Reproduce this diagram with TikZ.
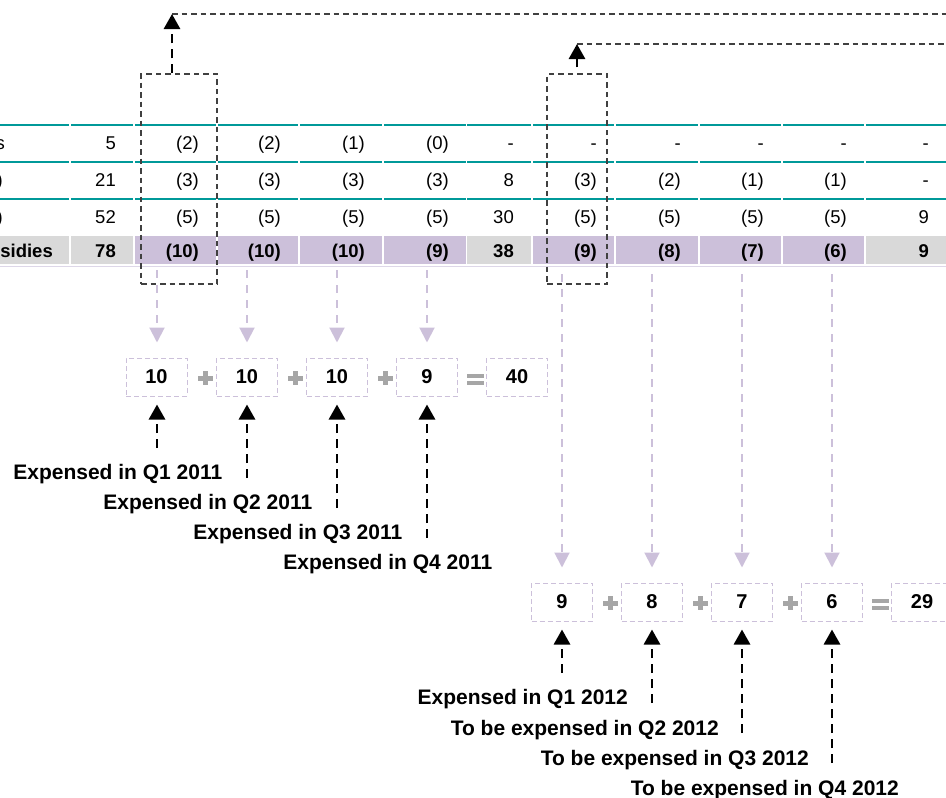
\documentclass[tikz,border=0pt]{standalone}
\usepackage{fontspec}
\setmainfont{Liberation Sans}
\usetikzlibrary{arrows.meta,calc}
\definecolor{tealline}{RGB}{0,153,153}
\definecolor{lav}{RGB}{204,192,218}
\definecolor{lavline}{RGB}{221,215,232}
\definecolor{cellgray}{RGB}{217,217,217}
\definecolor{dgray}{RGB}{64,64,64}
\definecolor{opgray}{RGB}{166,166,166}
\newcommand\opplus[2]{\fill[opgray] (#1-7.5,#2-2.5) rectangle (#1+7.5,#2+2.5); \fill[opgray] (#1-2.5,#2-7) rectangle (#1+2.5,#2+7);}
\newcommand\opeq[2]{\fill[opgray] (#1-8.5,#2-5.5) rectangle (#1+8.5,#2-1.5); \fill[opgray] (#1-8.5,#2+1.5) rectangle (#1+8.5,#2+5.5);}
\begin{document}
\begin{tikzpicture}[x=1pt,y=-1pt,
  tab/.style={font=\fontsize{18.5}{20}\selectfont, anchor=base east, inner sep=0pt},
  tabb/.style={font=\fontsize{18.5}{20}\selectfont\bfseries, anchor=base east, inner sep=0pt},
  nbox/.style={draw=lav, line width=1pt, dash pattern=on 5pt off 3pt, minimum width=61pt, minimum height=38pt, inner sep=0pt, font=\fontsize{20}{22}\selectfont\bfseries},
  lbl/.style={font=\fontsize{21}{23}\selectfont\bfseries, anchor=base east, inner sep=0pt},
  dbox/.style={draw=dgray, line width=1.3pt, dash pattern=on 5.5pt off 4pt, inner sep=0pt},
  gdash/.style={draw=dgray, line width=1.3pt, dash pattern=on 5.5pt off 4pt},
  blk/.style={draw=black, line width=2.8pt, dash pattern=on 9pt off 6pt, -{Triangle[length=15pt,width=16pt]}},
  lavarr/.style={draw=lav, line width=2pt, dash pattern=on 8pt off 7pt, -{Triangle[length=15pt,width=15pt]}, shorten >=15pt},
]
\useasboundingbox (0,0) rectangle (946,798);
\begin{scope}
\clip (0,0) rectangle (946,798);
% table rules and sum row
\foreach \l/\r/\c in {0/69/cellgray,71/133/cellgray,135/216/lav,218/298/lav,300/382/lav,384/466/lav,467/531/cellgray,533/614/lav,616/698/lav,700/781/lav,783/864/lav,866/950/cellgray}{
  \fill[tealline] (\l,123.5) rectangle (\r,125.5);
  \fill[tealline] (\l,160.5) rectangle (\r,162.5);
  \fill[tealline] (\l,197.5) rectangle (\r,199.5);
  \fill[\c] (\l,236) rectangle (\r,264);
}
\draw[lavline, line width=1pt] (0,266.5) -- (950,266.5);
% first column (cut off)
\node[tab] (h1) at (5,149.5) {s};
\node[tab] (h2) at (3,186) {)};
\node[tab] (h3) at (3,223) {)};
\node[tabb] (h4) at (53,257) {sidies};
% rows
\foreach \r/\v [count=\i] in {133/5,216/{(2)},298/{(2)},382/{(1)},466/{(0)},531/-,614/-,698/-,781/-,864/-,946/-}
  \node[tab] (ra\i) at (\r-17,149.5) {\v};
\foreach \r/\v [count=\i] in {133/21,216/{(3)},298/{(3)},382/{(3)},466/{(3)},531/8,614/{(3)},698/{(2)},781/{(1)},864/{(1)},946/-}
  \node[tab] (rb\i) at (\r-17,186) {\v};
\foreach \r/\v [count=\i] in {133/52,216/{(5)},298/{(5)},382/{(5)},466/{(5)},531/30,614/{(5)},698/{(5)},781/{(5)},864/{(5)},946/9}
  \node[tab] (rc\i) at (\r-17,223) {\v};
\foreach \r/\v [count=\i] in {133/78,216/{(10)},298/{(10)},382/{(10)},466/{(9)},531/38,614/{(9)},698/{(8)},781/{(7)},864/{(6)},946/9}
  \node[tabb] (rd\i) at (\r-17,257) {\v};
% dashed selection boxes
\node[dbox, minimum width=76pt, minimum height=210pt] (k1) at (179,179) {};
\node[dbox, minimum width=60pt, minimum height=210pt] (k2) at (577,179) {};
\coordinate (c1) at (172,14);
\coordinate (e1) at (960,14);
\coordinate (c2) at (577,44);
\coordinate (e2) at (960,44);
\draw[gdash] (c1) -- (e1);
\draw[gdash] (c2) -- (e2);
\draw[blk] ($(k1.north)+(-7,0)$) -- (c1);
\draw[blk] ($(k2.north)+(0,-6)$) -- (c2);
% 2011 sum
\node[nbox] (a1) at (156.5,377) {10};
\node[nbox] (a2) at (247,377) {10};
\node[nbox] (a3) at (337,377) {10};
\node[nbox] (a4) at (427,377) {9};
\node[nbox] (a5) at (517,377) {40};
\opplus{205}{378} \opplus{295}{378} \opplus{385}{378} \opeq{475}{379}
% 2012 sum
\node[nbox] (b1) at (562,602) {9};
\node[nbox] (b2) at (652,602) {8};
\node[nbox] (b3) at (742,602) {7};
\node[nbox] (b4) at (832,602) {6};
\node[nbox] (b5) at (922,602) {29};
\opplus{610}{603} \opplus{700}{603} \opplus{790}{603} \opeq{880}{604}
% lavender arrows
\foreach \x/\n/\y in {157/a1/270,247/a2/270,337/a3/270,427/a4/270,562/b1/274,652/b2/274,742/b3/274,832/b4/274}{
  \coordinate (p\n) at (\x,\y);
  \draw[lavarr] (p\n) -- (p\n |- \n.north);
}
% labels and black arrows
\node[lbl] (n1) at (222.5,479) {Expensed in Q1 2011};
\node[lbl] (n2) at (312.5,509) {Expensed in Q2 2011};
\node[lbl] (n3) at (402.5,539) {Expensed in Q3 2011};
\node[lbl] (n4) at (492.5,569) {Expensed in Q4 2011};
\node[lbl] (m1) at (628,704) {Expensed in Q1 2012};
\node[lbl] (m2) at (719,735) {To be expensed in Q2 2012};
\node[lbl] (m3) at (809,765) {To be expensed in Q3 2012};
\node[lbl] (m4) at (899,795) {To be expensed in Q4 2012};
\foreach \x/\n/\y in {157/a1/448,247/a2/478,337/a3/508,427/a4/538,562/b1/673,652/b2/703,742/b3/733,832/b4/763}{
  \coordinate (q\n) at (\x,\y);
  \draw[blk, shorten >=8pt] (q\n) -- (q\n |- \n.south);
}
\end{scope}
\end{tikzpicture}
\end{document}
